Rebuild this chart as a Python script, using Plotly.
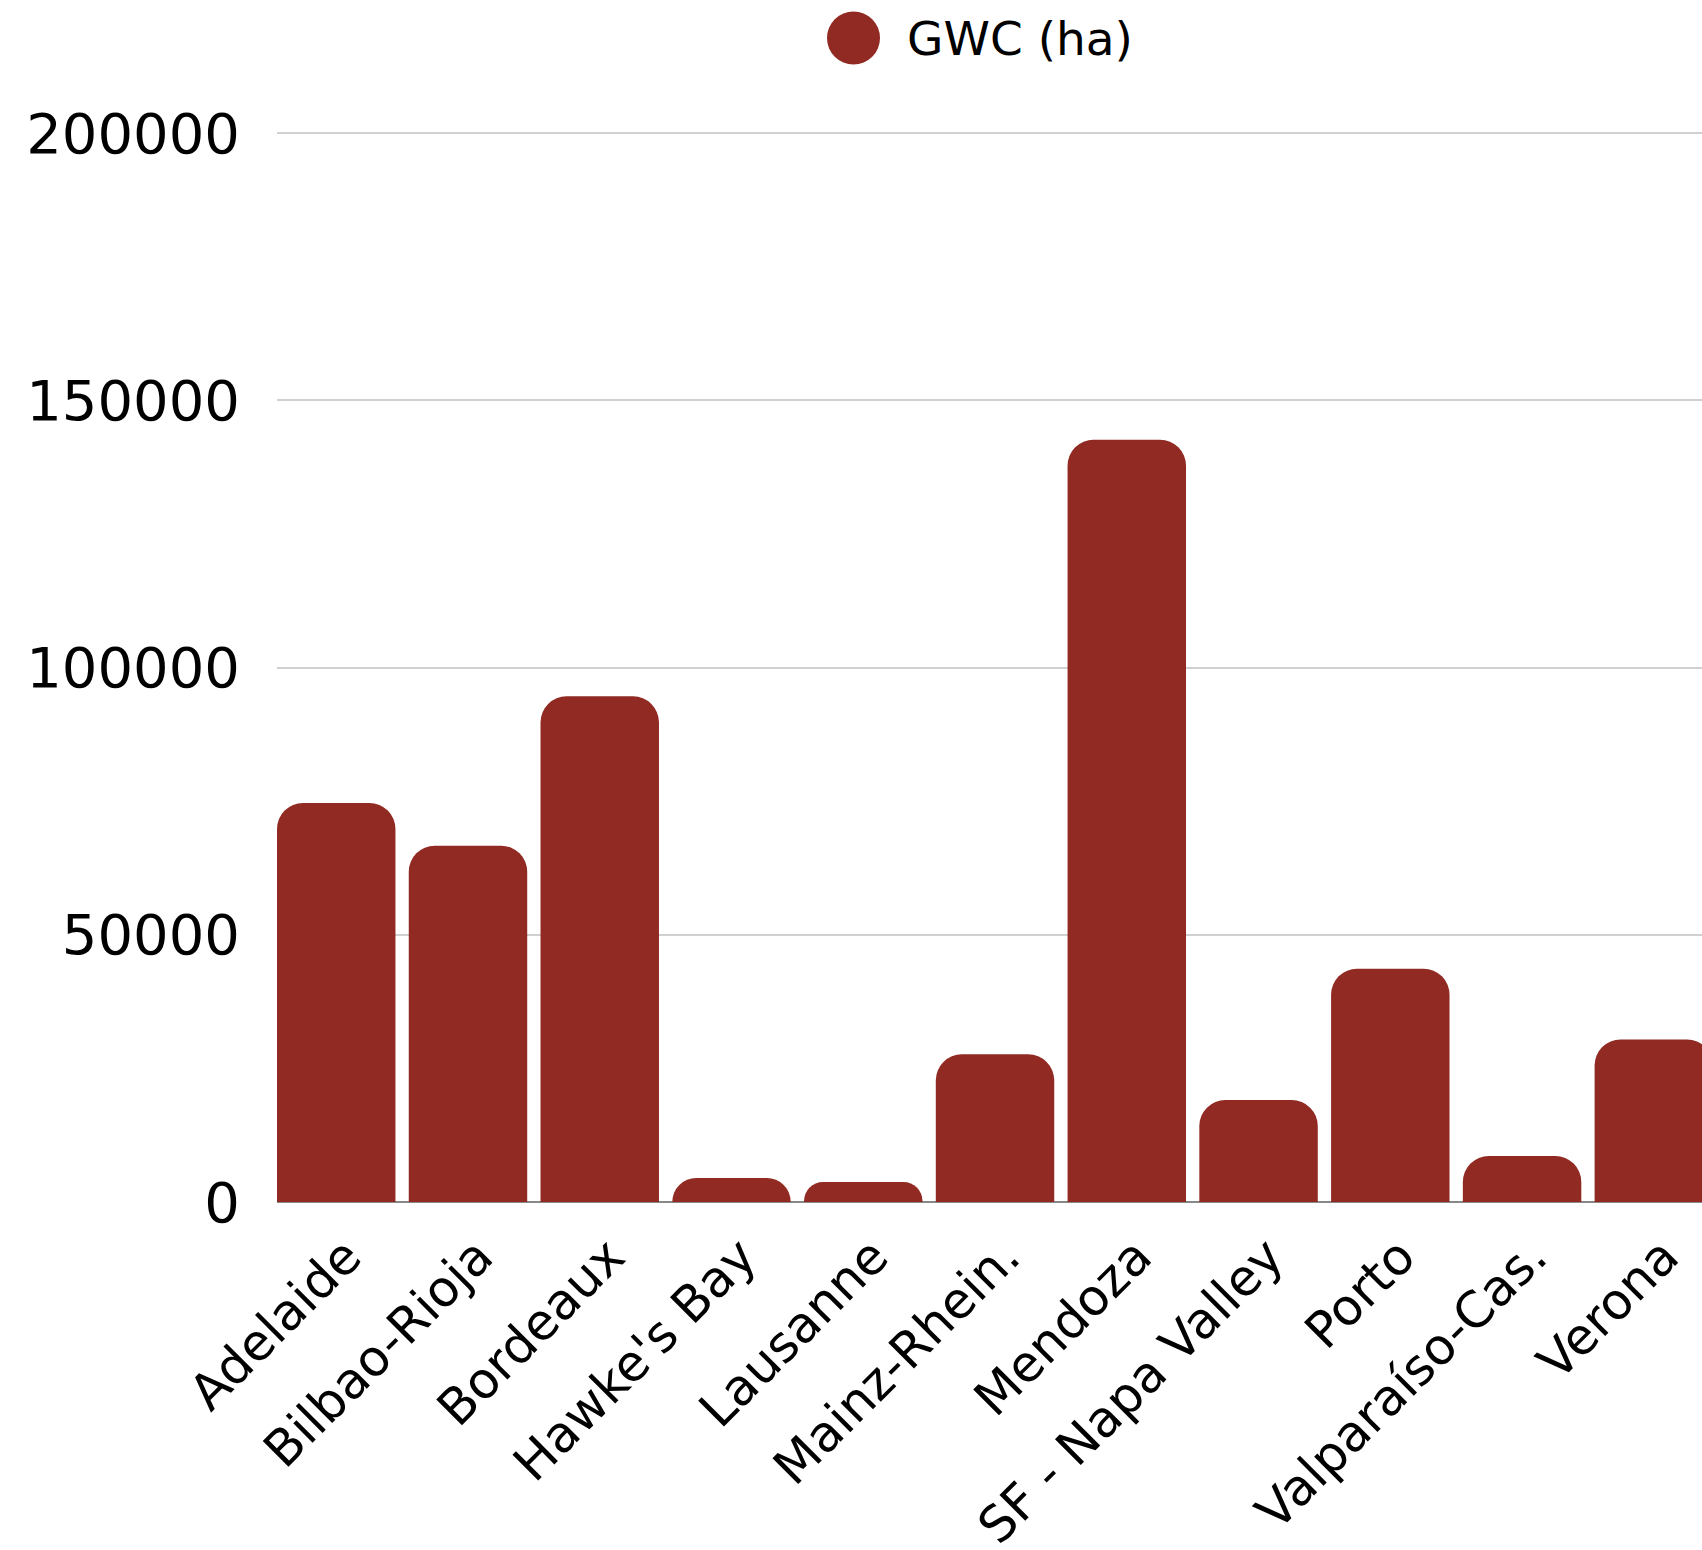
import plotly.graph_objects as go

# Vineyard area per Great Wine Capital (hectares)
regions = [
    "Adelaide", "Bilbao-Rioja", "Bordeaux", "Hawke's Bay", "Lausanne",
    "Mainz-Rhein.", "Mendoza", "SF - Napa Valley", "Porto",
    "Valparaíso-Cas.", "Verona",
]
area_ha = [74650, 66660, 94600, 4490, 3740, 27620, 142620, 19080, 43650, 8610, 30420]
series_name = "GWC (ha)"
y_ticks = [0, 50000, 100000, 150000, 200000]

BAR_COLOR = "#912A22"
FONT = "DejaVu Sans"

W, H = 1702, 1550
M_L, M_R, M_T, M_B = 277, 0, 130, 348
BARGAP = 0.101

fig = go.Figure()
fig.add_trace(go.Bar(
    x=regions,
    y=area_ha,
    name=series_name,
    marker=dict(color=BAR_COLOR, cornerradius=26, line=dict(width=0)),
    showlegend=False,
))

# horizontal pixel scale: one category slot is ~131.8 px wide
slot_px = 131.76
x_start = -0.5 + BARGAP / 2
x_end = x_start + (W - M_L - M_R) / slot_px

plot_h = H - M_T - M_B
y_top = 200000 * plot_h / (1202.3 - 133.3)

fig.update_layout(
    width=W,
    height=H,
    margin=dict(l=M_L, r=M_R, t=M_T, b=M_B),
    paper_bgcolor="white",
    plot_bgcolor="white",
    bargap=BARGAP,
    font=dict(family=FONT, color="#000000"),
    xaxis=dict(
        type="category",
        range=[x_start, x_end],
        tickangle=-45,
        tickfont=dict(size=50, family=FONT, color="#000000"),
        showgrid=False,
        showline=False,
        ticks="",
        ticklabelstandoff=14,
        ticklabelshift=10,
        automargin=False,
    ),
    yaxis=dict(
        range=[0, y_top],
        tickvals=y_ticks,
        ticktext=[str(v) for v in y_ticks],
        tickfont=dict(size=56, family=FONT, color="#000000"),
        showgrid=True,
        gridcolor="#d0d0d0",
        gridwidth=1.5,
        zeroline=True,
        zerolinecolor="#888888",
        zerolinewidth=2,
        showline=False,
        ticks="",
        ticklabelstandoff=36,
        automargin=False,
    ),
)

# legend: filled circle plus series name, centred above the plot
def px_to_paper_x(px):
    return (px - M_L) / (W - M_L - M_R)

def px_to_paper_y(py):
    return (H - M_B - py) / plot_h

fig.add_shape(
    type="circle",
    xref="paper", yref="paper",
    xsizemode="pixel", ysizemode="pixel",
    xanchor=px_to_paper_x(853.5), yanchor=px_to_paper_y(38),
    x0=-26.5, x1=26.5, y0=-26.5, y1=26.5,
    fillcolor=BAR_COLOR, line=dict(width=0),
)
fig.add_annotation(
    text=series_name,
    xref="paper", yref="paper",
    x=px_to_paper_x(905), y=px_to_paper_y(38),
    xanchor="left", yanchor="middle",
    showarrow=False,
    font=dict(size=47, family=FONT, color="#000000"),
)

fig.write_html("out.html")
